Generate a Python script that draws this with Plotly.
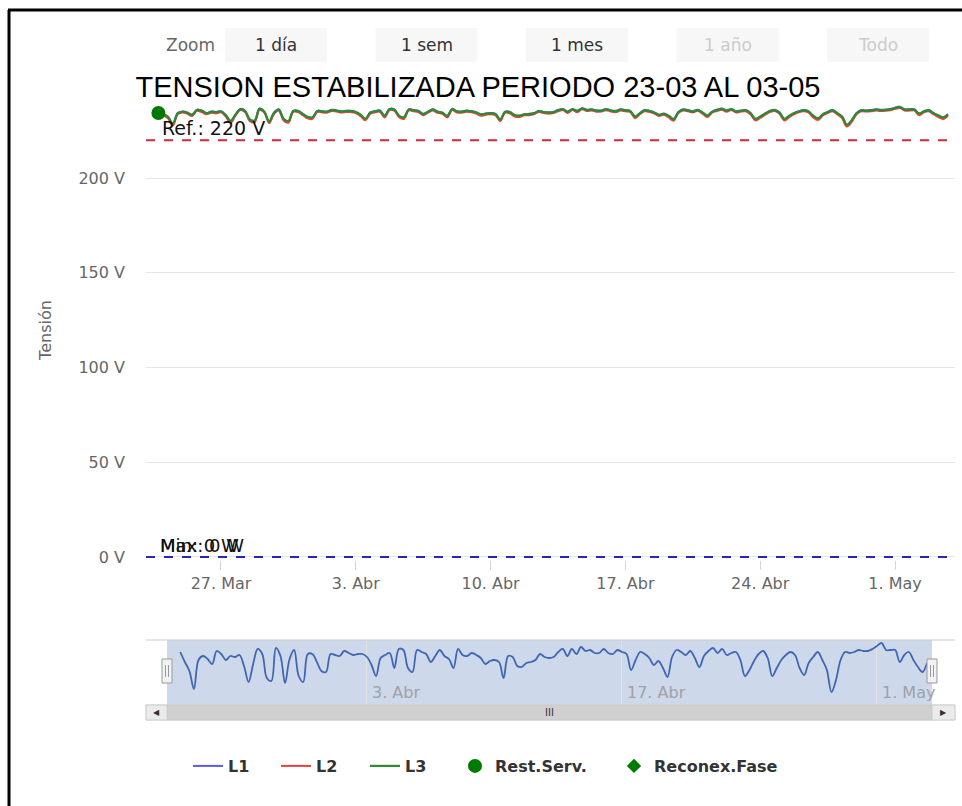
import plotly.graph_objects as go
import pandas as pd

# lecturas cada 6 horas desde el 23-03 18:00
fechas = pd.date_range("2019-03-23 18:00", periods=165, freq="6h")

l1 = [
    235.9, 233.9, 232.1, 228.5, 234.3, 235.1, 234.5, 233.5, 236.1, 235.5, 234.3, 235.1,
    234.9, 235.3, 233.1, 229.9, 233.5, 236.5, 235.5, 230.7, 230.1, 236.7, 235.1, 229.7,
    234.5, 236.3, 231.1, 229.9, 235.5, 235.5, 233.9, 232.1, 231.9, 235.5, 235.3, 235.1,
    236.1, 235.7, 235.3, 235.5, 235.5, 234.9, 233.3, 231.1, 234.7, 235.3, 235.7, 232.7,
    236.5, 236.3, 232.7, 231.9, 236.3, 235.9, 235.5, 233.9, 235.1, 236.3, 235.1, 234.5,
    232.7, 236.5, 235.3, 235.1, 235.7, 235.3, 234.7, 233.5, 234.1, 234.3, 233.9, 230.7,
    235.1, 234.9, 233.1, 232.9, 233.7, 233.9, 234.3, 235.5, 234.9, 234.7, 234.9, 235.9,
    236.5, 235.1, 236.5, 235.5, 236.9, 236.1, 236.3, 235.7, 235.7, 236.5, 235.7, 235.5,
    236.3, 235.9, 235.5, 232.3, 234.3, 235.9, 235.5, 234.7, 233.3, 234.1, 232.7, 230.9,
    234.9, 236.3, 235.9, 235.3, 236.1, 234.7, 232.9, 235.1, 236.1, 236.7, 235.7, 236.5,
    235.3, 235.7, 235.9, 234.3, 231.1, 232.3, 234.1, 235.5, 236.1, 234.7, 231.1, 232.7,
    234.3, 235.3, 235.9, 235.3, 232.7, 231.3, 233.7, 234.9, 235.9, 234.3, 232.3, 227.9,
    230.3, 234.3, 235.9, 235.7, 235.9, 236.3, 236.1, 236.1, 236.5, 237.1, 237.7, 236.3,
    236.3, 236.3, 233.9, 235.3, 235.9, 234.3, 232.9, 231.9, 233.7,
]
l2 = [
    235.3, 233.2, 231.5, 227.8, 233.6, 234.6, 233.9, 232.8, 235.5, 234.8, 233.7, 234.5,
    234.2, 234.7, 232.4, 229.2, 232.9, 235.9, 234.8, 230.0, 229.5, 236.0, 234.5, 229.0,
    233.8, 235.7, 230.4, 229.2, 234.9, 234.8, 233.2, 231.5, 231.2, 234.9, 234.6, 234.5,
    235.4, 235.1, 234.6, 234.9, 234.8, 234.3, 232.6, 230.5, 234.0, 234.7, 235.0, 232.0,
    235.9, 235.6, 232.1, 231.2, 235.7, 235.2, 234.9, 233.2, 234.5, 235.6, 234.4, 233.9,
    232.0, 235.9, 234.6, 234.5, 235.0, 234.7, 234.0, 232.9, 233.4, 233.7, 233.2, 230.0,
    234.5, 234.2, 232.5, 232.2, 233.1, 233.2, 233.7, 234.8, 234.3, 234.0, 234.3, 235.2,
    235.9, 234.4, 235.9, 234.8, 236.3, 235.4, 235.7, 235.0, 235.1, 235.8, 235.1, 234.8,
    235.7, 235.2, 234.9, 231.6, 233.7, 235.2, 234.9, 234.0, 232.7, 233.4, 232.0, 230.2,
    234.3, 235.6, 235.3, 234.6, 235.5, 234.0, 232.2, 234.5, 235.4, 236.1, 235.0, 235.9,
    234.6, 235.1, 235.2, 233.6, 230.4, 231.7, 233.4, 234.8, 235.4, 234.0, 230.4, 232.1,
    233.6, 234.7, 235.2, 234.6, 232.0, 230.6, 233.0, 234.3, 235.2, 233.7, 231.6, 227.2,
    229.6, 233.7, 235.2, 235.1, 235.2, 235.7, 235.4, 235.5, 235.8, 236.5, 237.0, 235.7,
    235.6, 235.7, 233.2, 234.7, 235.2, 233.7, 232.2, 231.2, 233.0,
]
l3 = [
    235.7, 233.8, 232.3, 228.8, 234.1, 235.0, 234.6, 233.3, 235.9, 235.6, 234.2, 235.0,
    234.8, 235.1, 233.2, 230.2, 233.4, 236.3, 235.4, 230.9, 230.4, 236.5, 235.0, 229.9,
    234.4, 236.1, 231.3, 230.1, 235.3, 235.4, 233.8, 232.3, 232.1, 235.3, 235.2, 235.0,
    235.9, 235.6, 235.1, 235.4, 235.3, 234.8, 233.4, 231.3, 234.5, 235.2, 235.5, 232.9,
    236.3, 236.1, 232.8, 232.1, 236.1, 235.8, 235.3, 233.8, 235.0, 236.1, 235.0, 234.4,
    232.9, 236.3, 235.2, 234.9, 235.5, 235.2, 234.6, 233.6, 234.0, 234.1, 233.8, 230.9,
    234.9, 234.8, 233.3, 233.0, 233.6, 233.7, 234.1, 235.3, 234.8, 234.5, 234.7, 235.7,
    236.3, 235.0, 236.3, 235.4, 236.7, 235.9, 236.1, 235.6, 235.5, 236.3, 235.6, 235.3,
    236.1, 235.8, 235.3, 232.5, 234.1, 235.7, 235.4, 234.5, 233.4, 233.9, 232.9, 231.1,
    234.7, 236.1, 235.7, 235.1, 235.9, 234.6, 233.0, 234.9, 235.9, 236.5, 235.6, 236.3,
    235.1, 235.5, 235.8, 234.2, 231.3, 232.5, 233.9, 235.3, 235.9, 234.5, 231.3, 232.8,
    234.2, 235.1, 235.7, 235.2, 232.9, 231.5, 233.6, 234.7, 235.7, 234.2, 232.5, 228.2,
    230.5, 234.1, 235.7, 235.5, 235.7, 236.1, 235.9, 236.0, 236.3, 236.9, 237.5, 236.1,
    236.2, 236.1, 234.1, 235.1, 235.7, 234.2, 233.1, 232.1, 233.6,
]

rest_serv_fecha = ["2019-03-23 18:00"]
rest_serv_valor = [234.3]

ref_tension = 220
max_potencia = 0
min_potencia = 0

ticks_fecha = ["2019-03-27", "2019-04-03", "2019-04-10", "2019-04-17", "2019-04-24", "2019-05-01"]
ticks_texto = ["27. Mar", "3. Abr", "10. Abr", "17. Abr", "24. Abr", "1. May"]
nav_ticks_fecha = ["2019-04-03", "2019-04-17", "2019-05-01"]
nav_ticks_texto = ["3. Abr", "17. Abr", "1. May"]
y_ticks = [0, 50, 100, 150, 200]
botones = ["1 día", "1 sem", "1 mes", "1 año", "Todo"]
botones_activos = [True, True, True, False, False]

# geometria en pixeles
W, H = 962, 806
ML, MR, MT, MB = 146, 7, 100, 90
PW, PH = W - ML - MR, H - MT - MB


def px(x):
    return (x - ML) / PW


def py(y):
    return (H - MB - y) / PH


FUENTE = "DejaVu Sans, Verdana, sans-serif"
GRIS = "#666666"

fig = go.Figure()
fig.add_trace(go.Scatter(x=fechas, y=l1, name="L1", mode="lines", legend="legend",
                         line=dict(color="#5b5be8", width=2, shape="spline")))
fig.add_trace(go.Scatter(x=fechas, y=l2, name="L2", mode="lines", legend="legend2",
                         line=dict(color="#e8413c", width=2, shape="spline")))
fig.add_trace(go.Scatter(x=fechas, y=l3, name="L3", mode="lines", legend="legend3",
                         line=dict(color="#2e8a2e", width=2.2, shape="spline")))
fig.add_trace(go.Scatter(x=rest_serv_fecha, y=rest_serv_valor, name="Rest.Serv.", mode="markers",
                         legend="legend4", marker=dict(symbol="circle", size=14, color="#007a00")))
fig.add_trace(go.Scatter(x=[None], y=[None], name="Reconex.Fase", mode="markers", legend="legend5",
                         marker=dict(symbol="diamond", size=11, color="#007a00")))
# navegador
fig.add_trace(go.Scatter(x=fechas, y=l1, xaxis="x2", yaxis="y2", mode="lines",
                         line=dict(color="#3f66b3", width=1.8, shape="spline"), showlegend=False,
                         hoverinfo="skip"))

shapes = []
annotations = []


def texto(t, x, y, size, color, family=FUENTE, xanchor="center"):
    annotations.append(dict(text=t, xref="paper", x=x, yref="paper", y=y, xanchor=xanchor,
                            yanchor="middle", showarrow=False,
                            font=dict(family=family, size=size, color=color)))


# lineas de referencia
shapes.append(dict(type="line", xref="paper", x0=0, x1=1, yref="y", y0=ref_tension, y1=ref_tension,
                   line=dict(color="#cc2a3a", width=2, dash="dash")))
shapes.append(dict(type="line", xref="paper", x0=0, x1=1, yref="y", y0=max_potencia, y1=max_potencia,
                   line=dict(color="#2626b0", width=2, dash="dash")))
annotations.append(dict(text=f"Ref.: {ref_tension} V", xref="paper", x=px(160), xanchor="left",
                        yref="y", y=ref_tension, yanchor="bottom", yshift=-1, showarrow=False,
                        font=dict(family=FUENTE, size=19, color="#111")))
for etiqueta, valor in (("Max", max_potencia), ("Min", min_potencia)):
    annotations.append(dict(text=f"{etiqueta}: {valor} W", xref="paper", x=px(158), xanchor="left",
                            yref="y", y=valor, yanchor="bottom", yshift=-1, showarrow=False,
                            font=dict(family=FUENTE, size=18, color="#111")))

# botones de zoom
texto("Zoom", px(190), py(45), 17, GRIS)
for i, (b, activo) in enumerate(zip(botones, botones_activos)):
    x0 = 225 + i * 150.5
    shapes.append(dict(type="rect", xref="paper", yref="paper", x0=px(x0), x1=px(x0 + 102),
                       y0=py(62), y1=py(28), fillcolor="#f7f7f7", line=dict(width=0)))
    texto(b, px(x0 + 51), py(45), 17, "#333" if activo else "#cccccc")

# navegador: mascara, contorno, manijas
shapes.append(dict(type="rect", xref="x2 domain", yref="y2 domain", x0=0, x1=1, y0=0, y1=1,
                   fillcolor="rgba(102,133,194,0.32)", line=dict(width=0), layer="below"))
shapes.append(dict(type="line", xref="paper", yref="paper", x0=0, x1=1, y0=py(640), y1=py(640),
                   line=dict(color="#cccccc", width=1)))
for hx in (167, 932):
    shapes.append(dict(type="rect", xref="paper", yref="paper", x0=px(hx - 5), x1=px(hx + 5),
                       y0=py(683), y1=py(659), fillcolor="#f2f2f2", line=dict(color="#999", width=1)))
    for lx in (hx - 1.5, hx + 1.5):
        shapes.append(dict(type="line", xref="paper", yref="paper", x0=px(lx), x1=px(lx),
                           y0=py(677), y1=py(665), line=dict(color="#999", width=1)))
for f, t in zip(nav_ticks_fecha, nav_ticks_texto):
    annotations.append(dict(text=t, xref="x2", x=f, xanchor="left", xshift=3,
                            yref="y2 domain", y=0.02, yanchor="bottom", showarrow=False,
                            font=dict(family=FUENTE, size=16, color="#a0a0a8")))

# barra de desplazamiento
shapes.append(dict(type="rect", xref="paper", yref="paper", x0=0, x1=1, y0=py(720), y1=py(705),
                   fillcolor="#f2f2f2", line=dict(color="#e0e0e0", width=1)))
shapes.append(dict(type="rect", xref="paper", yref="paper", x0=px(167), x1=px(932), y0=py(720), y1=py(705),
                   fillcolor="#d0d0d0", line=dict(color="#c8c8c8", width=1)))
for bx0, bx1, flecha in ((146, 167, "◀"), (932, 955, "▶")):
    shapes.append(dict(type="rect", xref="paper", yref="paper", x0=px(bx0), x1=px(bx1),
                       y0=py(720), y1=py(705), fillcolor="#ebebeb", line=dict(color="#cccccc", width=1)))
    texto(flecha, px((bx0 + bx1) / 2), py(712.5), 8, "#333")
texto("III", px(549), py(712.5), 10, "#333")

# marco negro de la captura
shapes.append(dict(type="line", xref="paper", yref="paper", x0=px(9), x1=px(9), y0=py(10), y1=py(806),
                   line=dict(color="black", width=3)))
shapes.append(dict(type="line", xref="paper", yref="paper", x0=px(8), x1=px(962), y0=py(10), y1=py(10),
                   line=dict(color="black", width=3)))

# una leyenda por serie, para fijar la posicion de cada elemento
leyenda_base = dict(orientation="h", xanchor="left", y=py(766), yanchor="middle", itemwidth=30,
                    bgcolor="rgba(0,0,0,0)",
                    font=dict(family=FUENTE, size=16, color="#333", weight="bold"))
leyendas = {}
for nombre, inicio in (("legend", 188), ("legend2", 276), ("legend3", 365),
                       ("legend4", 455), ("legend5", 614)):
    leyendas[nombre] = dict(leyenda_base, x=px(inicio))

fig.update_layout(
    width=W, height=H,
    margin=dict(l=ML, r=MR, t=MT, b=MB),
    paper_bgcolor="white", plot_bgcolor="white",
    title=dict(text="TENSION ESTABILIZADA PERIODO 23-03 AL 03-05", x=478 / W, xanchor="center",
               y=1 - 87 / H, yanchor="middle",
               font=dict(family="Liberation Sans, Arial, sans-serif", size=29, color="black")),
    xaxis=dict(domain=[0, 1], anchor="y", range=["2019-03-23 02:33", "2019-05-04 02:45"],
               tickvals=ticks_fecha, ticktext=ticks_texto, showgrid=False, zeroline=False,
               ticks="outside", ticklen=9, tickcolor="#d5d5d5",
               tickfont=dict(family=FUENTE, size=16, color=GRIS)),
    yaxis=dict(domain=[py(560), 1], anchor="x", range=[-1.6, 241.2], tickvals=y_ticks,
               ticktext=[f"{v} V" for v in y_ticks], gridcolor="#e6e6e6", zeroline=False,
               tickfont=dict(family=FUENTE, size=16, color=GRIS), ticklabelstandoff=20,
               title=dict(text="Tensión", font=dict(family=FUENTE, size=16, color=GRIS), standoff=22)),
    xaxis2=dict(domain=[px(167), px(932)], anchor="y2", range=["2019-03-23 00:30", "2019-05-04 00:30"],
                tickvals=nav_ticks_fecha, showticklabels=False, showgrid=True, gridcolor="#e2e2e2",
                zeroline=False, ticks=""),
    yaxis2=dict(domain=[py(705), py(640)], anchor="x2", range=[225.3, 238.3], visible=False),
    shapes=shapes, annotations=annotations,
    hovermode="x",
    **leyendas,
)

fig.write_html("out.html", config={"displayModeBar": False},
               post_script="document.body.style.margin='0';")
